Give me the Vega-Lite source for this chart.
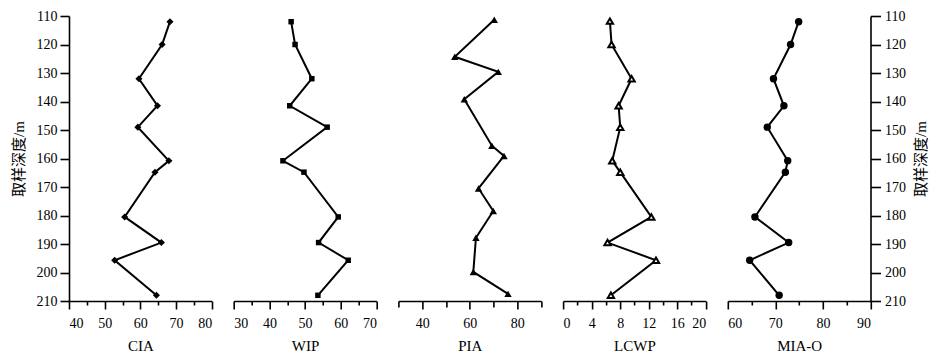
{
  "$schema": "https://vega.github.io/schema/vega-lite/v6.json",
  "background": "white",
  "padding": {"left": 11, "top": 9, "right": 2, "bottom": 0},
  "bounds": "flush",
  "spacing": 21.7,
  "config": {
    "font": "Liberation Serif, Noto Sans CJK SC",
    "view": {"stroke": null},
    "axis": {
      "grid": false,
      "domainColor": "black",
      "domainWidth": 1.6,
      "tickColor": "black",
      "tickWidth": 1.6,
      "labelColor": "black",
      "labelFontSize": 14,
      "labelFont": "Liberation Serif",
      "titleColor": "black",
      "titleFontSize": 15,
      "titleFontWeight": "normal",
      "titleFont": "Liberation Serif, Noto Sans CJK SC"
    }
  },
  "datasets": {
    "cia": [
      {"depth": 112, "value": 68.3}, {"depth": 120, "value": 66.1}, {"depth": 132, "value": 59.6},
      {"depth": 141.5, "value": 64.8}, {"depth": 149, "value": 59.3}, {"depth": 160.8, "value": 68.0},
      {"depth": 164.8, "value": 64.1}, {"depth": 180.5, "value": 55.6}, {"depth": 189.5, "value": 65.9},
      {"depth": 195.7, "value": 52.8}, {"depth": 208, "value": 64.5}
    ],
    "wip": [
      {"depth": 112, "value": 46.1}, {"depth": 120, "value": 47.2}, {"depth": 132, "value": 51.9},
      {"depth": 141.5, "value": 45.7}, {"depth": 149, "value": 56.2}, {"depth": 160.8, "value": 43.8},
      {"depth": 164.8, "value": 49.7}, {"depth": 180.5, "value": 59.3}, {"depth": 189.5, "value": 53.8},
      {"depth": 195.7, "value": 62.1}, {"depth": 208, "value": 53.6}
    ],
    "pia": [
      {"depth": 111.3, "value": 70.3}, {"depth": 124.3, "value": 53.7}, {"depth": 129.6, "value": 72.0},
      {"depth": 139.2, "value": 57.7}, {"depth": 155.5, "value": 69.3}, {"depth": 159.1, "value": 74.4},
      {"depth": 170.5, "value": 63.7}, {"depth": 178.4, "value": 69.9}, {"depth": 187.8, "value": 62.6},
      {"depth": 199.8, "value": 61.5}, {"depth": 207.5, "value": 76.1}
    ],
    "lcwp": [
      {"depth": 111.8, "value": 6.56}, {"depth": 120, "value": 6.79}, {"depth": 132, "value": 9.6},
      {"depth": 141.5, "value": 7.78}, {"depth": 149, "value": 8.01}, {"depth": 160.8, "value": 6.89},
      {"depth": 164.8, "value": 8.01}, {"depth": 180.5, "value": 12.37}, {"depth": 189.5, "value": 6.23},
      {"depth": 195.7, "value": 13.02}, {"depth": 208, "value": 6.7}
    ],
    "miao": [
      {"depth": 112, "value": 74.9}, {"depth": 120, "value": 73.2}, {"depth": 132, "value": 69.6},
      {"depth": 141.5, "value": 71.8}, {"depth": 149, "value": 68.3}, {"depth": 160.8, "value": 72.6},
      {"depth": 164.8, "value": 72.1}, {"depth": 180.5, "value": 65.7}, {"depth": 189.5, "value": 72.8},
      {"depth": 195.7, "value": 64.6}, {"depth": 208, "value": 70.8}
    ]
  },
  "hconcat": [
    {
      "width": 142.7, "height": 285,
      "data": {"name": "cia"},
      "encoding": {
        "x": {"field": "value", "type": "quantitative", "title": "CIA",
          "scale": {"domain": [40, 80], "nice": false, "zero": false},
          "axis": {"values": [40,45,50,55,60,65,70,75,80], "labelExpr": "datum.value % 10 === 0 ? datum.label : ''",
            "tickSize": {"condition": {"test": "datum.value % 10 === 0", "value": 8}, "value": 4},
            "labelPadding": 7, "titlePadding": 8}},
        "y": {"field": "depth", "type": "quantitative", "title": "取样深度/m",
          "scale": {"domain": [110, 210], "reverse": true, "nice": false, "zero": false},
          "axis": {"orient": "left", "values": [110,120,130,140,150,160,170,180,190,200,210], "tickSize": 9, "labelPadding": 3, "titlePadding": 10}},
        "order": {"field": "depth", "type": "quantitative"}
      },
      "layer": [
        {"mark": {"type": "line", "color": "black", "strokeWidth": 2}},
        {"mark": {"type": "point", "shape": "diamond", "filled": true, "color": "black", "opacity": 1, "size": 50}}
      ]
    },
    {
      "width": 142.7, "height": 285,
      "data": {"name": "wip"},
      "encoding": {
        "x": {"field": "value", "type": "quantitative", "title": "WIP",
          "scale": {"domain": [30, 70], "nice": false, "zero": false},
          "axis": {"values": [30,35,40,45,50,55,60,65,70], "labelExpr": "datum.value % 10 === 0 ? datum.label : ''",
            "tickSize": {"condition": {"test": "datum.value % 10 === 0", "value": 8}, "value": 4},
            "labelPadding": 7, "titlePadding": 8}},
        "y": {"field": "depth", "type": "quantitative",
          "scale": {"domain": [110, 210], "reverse": true, "nice": false, "zero": false},
          "axis": null},
        "order": {"field": "depth", "type": "quantitative"}
      },
      "layer": [
        {"mark": {"type": "line", "color": "black", "strokeWidth": 2}},
        {"mark": {"type": "point", "shape": "square", "filled": true, "color": "black", "opacity": 1, "size": 30}}
      ]
    },
    {
      "width": 142.7, "height": 285,
      "data": {"name": "pia"},
      "encoding": {
        "x": {"field": "value", "type": "quantitative", "title": "PIA",
          "scale": {"domain": [30, 90], "nice": false, "zero": false},
          "axis": {"values": [30,40,50,60,70,80,90], "labelExpr": "datum.value % 20 === 0 ? datum.label : ''",
            "tickSize": {"condition": {"test": "datum.value % 20 === 0", "value": 8}, "value": 6},
            "labelPadding": 7, "titlePadding": 8}},
        "y": {"field": "depth", "type": "quantitative",
          "scale": {"domain": [110, 210], "reverse": true, "nice": false, "zero": false},
          "axis": null},
        "order": {"field": "depth", "type": "quantitative"}
      },
      "layer": [
        {"mark": {"type": "line", "color": "black", "strokeWidth": 2}},
        {"mark": {"type": "point", "shape": "triangle-up", "filled": true, "color": "black", "opacity": 1, "size": 55}}
      ]
    },
    {
      "width": 142.7, "height": 285,
      "data": {"name": "lcwp"},
      "encoding": {
        "x": {"field": "value", "type": "quantitative", "title": "LCWP",
          "scale": {"domain": [0, 20], "nice": false, "zero": false},
          "axis": {"values": [0,2,4,6,8,10,12,14,16,18,20], "labelExpr": "datum.value % 4 === 0 ? datum.label : ''",
            "tickSize": {"condition": {"test": "datum.value % 4 === 0", "value": 8}, "value": 4},
            "labelPadding": 7, "titlePadding": 8}},
        "y": {"field": "depth", "type": "quantitative",
          "scale": {"domain": [110, 210], "reverse": true, "nice": false, "zero": false},
          "axis": null},
        "order": {"field": "depth", "type": "quantitative"}
      },
      "layer": [
        {"mark": {"type": "line", "color": "black", "strokeWidth": 2}},
        {"mark": {"type": "point", "shape": "triangle-up", "filled": false, "fill": "white", "stroke": "black", "strokeWidth": 2, "opacity": 1, "size": 40}}
      ]
    },
    {
      "width": 142.7, "height": 285,
      "data": {"name": "miao"},
      "encoding": {
        "x": {"field": "value", "type": "quantitative", "title": "MIA-O",
          "scale": {"domain": [60, 90], "nice": false, "zero": false},
          "axis": {"values": [60,65,70,75,80,85,90], "labelExpr": "datum.value % 10 === 0 ? datum.label : ''",
            "tickSize": {"condition": {"test": "datum.value % 10 === 0", "value": 8}, "value": 4},
            "labelPadding": 7, "titlePadding": 8}},
        "y": {"field": "depth", "type": "quantitative", "title": "取样深度/m",
          "scale": {"domain": [110, 210], "reverse": true, "nice": false, "zero": false},
          "axis": {"orient": "right", "values": [110,120,130,140,150,160,170,180,190,200,210], "tickSize": 10, "labelPadding": 4, "titlePadding": 8, "titleAngle": 270, "titleBaseline": "top"}},
        "order": {"field": "depth", "type": "quantitative"}
      },
      "layer": [
        {"mark": {"type": "line", "color": "black", "strokeWidth": 2}},
        {"mark": {"type": "point", "shape": "circle", "filled": true, "color": "black", "opacity": 1, "size": 55}}
      ]
    }
  ]
}
